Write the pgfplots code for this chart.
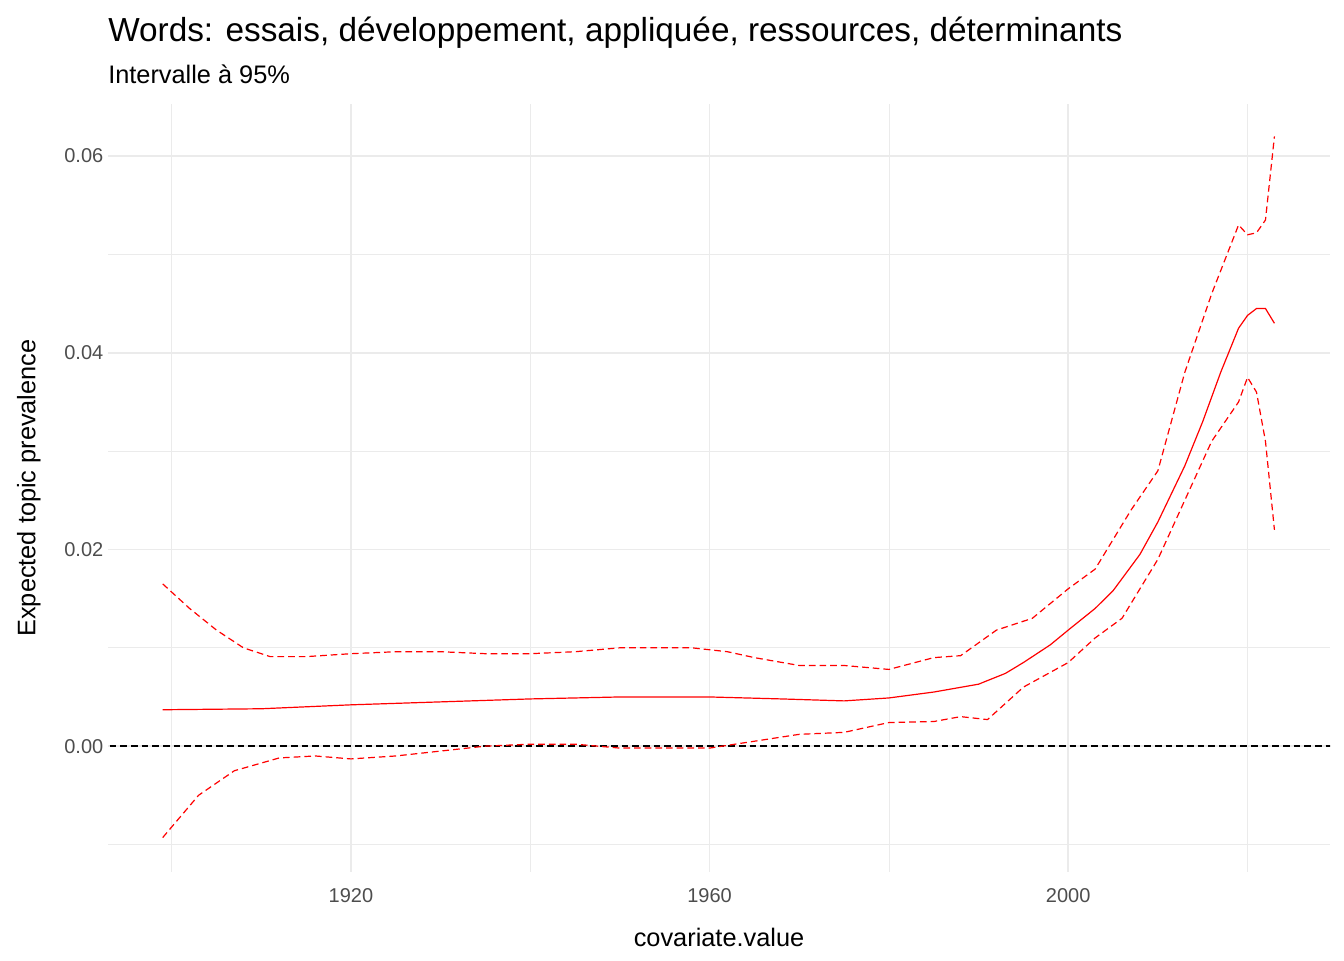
\documentclass[border=0pt]{standalone}
\usepackage{pgfplots}
\pgfplotsset{compat=1.18}
\usepackage{fontspec}
\setmainfont{Liberation Sans}
\definecolor{gridc}{HTML}{EBEBEB}
\definecolor{tickc}{HTML}{4D4D4D}
\begin{document}
\begin{tikzpicture}[x=1pt,y=1pt]
\useasboundingbox (0,0) rectangle (1008,720);
\node[anchor=base west,inner sep=0pt,font=\fontsize{25}{29}\selectfont] at (81,689) {Words: essais, développement, appliquée, ressources, déterminants};
\node[anchor=base west,inner sep=0pt,font=\fontsize{19}{22}\selectfont] at (81,657) {Intervalle à 95\%};
\begin{axis}[at={(81pt,66pt)},anchor=south west,scale only axis,
 width=916.5pt,height=576pt,
 xmin=1892.9,xmax=2029.2,ymin=-0.0128,ymax=0.0653,
 axis line style={draw=none},major tick length=0pt,minor tick length=0pt,
 xtick={1920,1960,2000},minor xtick={1900,1940,1980,2020},
 ytick={0,0.02,0.04,0.06},minor ytick={-0.01,0.01,0.03,0.05},
 grid=both,major grid style={gridc,line width=1.1pt},minor grid style={gridc,line width=0.55pt},
 xticklabel style={/pgf/number format/set thousands separator={},yshift=-9pt},
 yticklabel style={/pgf/number format/fixed,/pgf/number format/precision=2,/pgf/number format/fixed zerofill},
 /pgf/number format/assume math mode=true,
 tick label style={font=\fontsize{15}{18}\selectfont,text=tickc},
 xlabel={covariate.value},ylabel={Expected topic prevalence},
 label style={font=\fontsize{19}{22}\selectfont},
 xlabel style={yshift=-12pt},ylabel style={yshift=11pt},
 scaled y ticks=false]
\addplot[black,dash pattern=on 5pt off 3pt,line width=1pt] coordinates {(1880,0) (2040,0)};
\addplot[red,line width=0.9pt] coordinates {(1899,0.0037)(1910,0.0038)(1920,0.0042)(1930,0.0045)(1940,0.0048)(1950,0.0050)(1960,0.0050)(1968,0.0048)(1975,0.0046)(1980,0.0049)(1985,0.0055)(1990,0.0063)(1993,0.0074)(1995,0.0085)(1998,0.0103)(2000,0.0118)(2003,0.0140)(2005,0.0158)(2008,0.0195)(2010,0.0228)(2013,0.0285)(2015,0.0330)(2017,0.0380)(2019,0.0425)(2020,0.0438)(2021,0.0445)(2022,0.0445)(2023,0.0430)};
\addplot[red,dash pattern=on 5pt off 3pt,line width=0.9pt] coordinates {(1899,0.0165)(1902,0.0140)(1905,0.0118)(1908,0.0100)(1911,0.0091)(1915,0.0091)(1920,0.0094)(1925,0.0096)(1930,0.0096)(1935,0.0094)(1940,0.0094)(1945,0.0096)(1950,0.0100)(1958,0.0100)(1962,0.0096)(1965,0.0090)(1970,0.0082)(1975,0.0082)(1980,0.0078)(1985,0.0090)(1988,0.0092)(1992,0.0118)(1996,0.0130)(2000,0.0160)(2003,0.0180)(2007,0.0240)(2010,0.0280)(2013,0.0380)(2016,0.0460)(2019,0.0530)(2020,0.0520)(2021,0.0522)(2022,0.0535)(2023,0.0620)};
\addplot[red,dash pattern=on 5pt off 3pt,line width=0.9pt] coordinates {(1899,-0.0093)(1903,-0.0050)(1907,-0.0025)(1912,-0.0012)(1916,-0.0010)(1920,-0.0013)(1925,-0.0010)(1930,-0.0005)(1935,0.0000)(1940,0.0002)(1945,0.0002)(1950,-0.0002)(1955,-0.0002)(1960,-0.0002)(1965,0.0005)(1970,0.0012)(1975,0.0014)(1980,0.0024)(1985,0.0025)(1988,0.0030)(1991,0.0027)(1995,0.0060)(2000,0.0085)(2003,0.0110)(2006,0.0130)(2010,0.0190)(2013,0.0250)(2016,0.0310)(2019,0.0350)(2020,0.0375)(2021,0.0360)(2022,0.0310)(2023,0.0220)};
\end{axis}
\end{tikzpicture}
\end{document}
